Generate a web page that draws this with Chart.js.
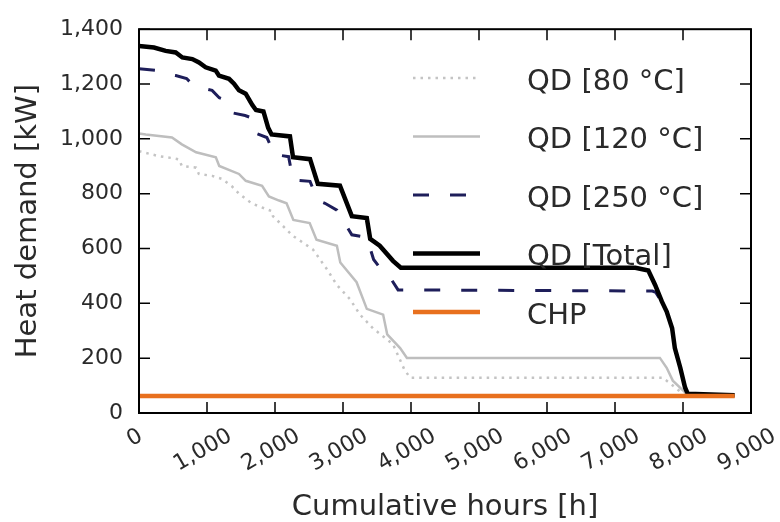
<!DOCTYPE html>
<html>
<head>
<meta charset="utf-8">
<script src="https://cdn.jsdelivr.net/npm/chart.js@4.4.0/dist/chart.umd.min.js"></script>
<style>
  html, body { margin: 0; padding: 0; background: #fff; }
  #wrap { width: 780px; height: 522px; }
</style>
</head>
<body>
<div id="wrap"><canvas id="heatChart" width="780" height="522"></canvas></div>
<script>
"use strict"

// load duration curves: cumulative hours [h] -> heat demand [kW]
const hours80 = [0, 290, 485, 590, 630, 840, 880, 1075, 1220, 1370, 1470, 1660, 1955, 1970, 2265, 2560, 2765, 2910, 3100, 3250, 3440, 3735, 3900, 3985, 7700, 7800, 7950, 8030];
const demand80 = [955, 937, 930, 925, 901, 895, 872, 865, 854, 826, 800, 764, 736, 718, 646, 596, 524, 467, 416, 359, 309, 251, 160, 129, 129, 110, 80, 72];

const hours120 = [0, 100, 485, 630, 840, 1130, 1180, 1470, 1570, 1810, 1910, 2060, 2170, 2270, 2510, 2610, 2910, 2960, 3200, 3350, 3590, 3650, 3840, 3940, 7660, 7760, 7850, 8030];
const demand120 = [1020, 1016, 1005, 980, 951, 933, 901, 872, 847, 829, 790, 775, 765, 704, 693, 632, 610, 549, 477, 380, 359, 287, 237, 201, 201, 165, 118, 75];

const hours250 = [0, 260, 330, 540, 700, 780, 880, 1075, 1180, 1280, 1370, 1560, 1650, 1690, 1880, 1926, 1970, 2200, 2265, 2515, 2630, 2735, 2910, 3130, 3350, 3450, 3540, 3690, 3810, 7550, 7600, 7700, 7760, 7840, 7880, 7960, 8030, 8070];
const demand250 = [1256, 1250, 1240, 1231, 1220, 1200, 1188, 1177, 1150, 1141, 1095, 1085, 1077, 1023, 1005, 980, 944, 935, 850, 845, 775, 765, 740, 650, 640, 560, 531, 495, 449, 445, 440, 400, 370, 309, 237, 165, 93, 70];

const hoursTotal = [0, 220, 392, 540, 637, 784, 882, 980, 1128, 1176, 1324, 1397, 1470, 1569, 1667, 1720, 1830, 1900, 1950, 2220, 2265, 2515, 2630, 2955, 3130, 3350, 3400, 3540, 3735, 3850, 7300, 7490, 7590, 7690, 7760, 7840, 7880, 7960, 8030, 8070, 8760];
const demandTotal = [1339, 1333, 1321, 1315, 1297, 1291, 1279, 1261, 1249, 1231, 1219, 1201, 1177, 1165, 1123, 1105, 1100, 1040, 1016, 1009, 933, 926, 836, 829, 718, 711, 635, 610, 555, 530, 530, 520, 467, 406, 370, 309, 237, 165, 93, 70, 65];

const hoursCHP = [0, 8760];
const demandCHP = [62, 62];

const seriesLabels = ["QD [80 °C]", "QD [120 °C]", "QD [250 °C]", "QD [Total]", "CHP"];
const xTickStep = 1000;
const yTickStep = 200;

function toPoints(xs, ys) {
    return xs.map((x, i) => ({ x: x, y: ys[i] }));
}

const FONT = "'DejaVu Sans', sans-serif";
const TEXT = "#2a2a2a";

// matplotlib-like frame, inward ticks on all four sides, rotated x labels and legend in the plot
const framePlugin = {
    id: "frame",
    afterDatasetsDraw(chart) {
        const ctx = chart.ctx;
        const a = chart.chartArea;
        const xs = chart.scales.x;
        const ys = chart.scales.y;
        const len = 11;
        ctx.save();
        ctx.strokeStyle = "#000";
        ctx.lineWidth = 1.5;
        ctx.beginPath();
        xs.ticks.forEach(t => {
            const px = xs.getPixelForValue(t.value);
            ctx.moveTo(px, a.bottom);
            ctx.lineTo(px, a.bottom - len);
            ctx.moveTo(px, a.top);
            ctx.lineTo(px, a.top + len);
        });
        ys.ticks.forEach(t => {
            const py = ys.getPixelForValue(t.value);
            ctx.moveTo(a.left, py);
            ctx.lineTo(a.left + len, py);
            ctx.moveTo(a.right, py);
            ctx.lineTo(a.right - len, py);
        });
        ctx.stroke();
        ctx.lineWidth = 2;
        ctx.strokeRect(a.left, a.top, a.right - a.left, a.bottom - a.top);

        // x tick labels, rotated 30 degrees and centred under the tick
        const ang = Math.PI / 6;
        const size = 22;
        ctx.fillStyle = TEXT;
        ctx.font = size + "px " + FONT;
        ctx.textAlign = "center";
        ctx.textBaseline = "middle";
        xs.ticks.forEach(t => {
            const text = t.value.toLocaleString("en-US");
            const w = ctx.measureText(text).width;
            const boxH = w * Math.sin(ang) + 0.8 * size * Math.cos(ang);
            const px = xs.getPixelForValue(t.value) - 4;
            const py = a.bottom + 14 + boxH / 2;
            ctx.save();
            ctx.translate(px, py);
            ctx.rotate(-ang);
            ctx.fillText(text, 0, 0);
            ctx.restore();
        });
        ctx.restore();
    },
    afterDraw(chart) {
        const ctx = chart.ctx;
        const lineX0 = 413, lineX1 = 480, textX = 527;
        const rowY0 = 78, rowGap = 58.5;
        ctx.save();
        chart.data.datasets.forEach((ds, i) => {
            const y = rowY0 + i * rowGap;
            ctx.strokeStyle = ds.borderColor;
            ctx.lineWidth = ds.borderWidth;
            ctx.setLineDash(ds.borderDash || []);
            ctx.beginPath();
            ctx.moveTo(lineX0, y);
            ctx.lineTo(lineX1, y);
            ctx.stroke();
            ctx.setLineDash([]);
            ctx.fillStyle = TEXT;
            ctx.font = "29px " + FONT;
            ctx.textBaseline = "middle";
            ctx.textAlign = "left";
            ctx.fillText(ds.label, textX, y + 4);
        });
        ctx.restore();
    }
};

const ctx = document.getElementById("heatChart").getContext("2d");
new Chart(ctx, {
    type: "line",
    data: {
        datasets: [
            {
                label: seriesLabels[0],
                data: toPoints(hours80, demand80),
                borderColor: "#c4c4c4",
                borderWidth: 2.5,
                borderDash: [2.5, 5],
                order: 4
            },
            {
                label: seriesLabels[1],
                data: toPoints(hours120, demand120),
                borderColor: "#bebebe",
                borderWidth: 2.5,
                order: 3
            },
            {
                label: seriesLabels[2],
                data: toPoints(hours250, demand250),
                borderColor: "#1e1e5a",
                borderWidth: 3,
                borderDash: [16, 21],
                order: 2
            },
            {
                label: seriesLabels[3],
                data: toPoints(hoursTotal, demandTotal),
                borderColor: "#000000",
                borderWidth: 4.5,
                order: 1
            },
            {
                label: seriesLabels[4],
                data: toPoints(hoursCHP, demandCHP),
                borderColor: "#e8701e",
                borderWidth: 4.5,
                order: 0
            }
        ]
    },
    options: {
        responsive: false,
        animation: false,
        devicePixelRatio: 1,
        layout: { padding: { left: 0, right: 29, top: 23, bottom: 0 } },
        elements: {
            point: { radius: 0 },
            line: { tension: 0, fill: false, borderCapStyle: "butt", borderJoinStyle: "miter" }
        },
        plugins: {
            legend: { display: false },
            tooltip: { enabled: false }
        },
        scales: {
            x: {
                type: "linear",
                min: 0,
                max: 9000,
                afterFit: s => { s.height = 109; },
                grid: { display: false, drawTicks: false },
                border: { display: false },
                ticks: {
                    stepSize: xTickStep,
                    display: false
                },
                title: {
                    display: true,
                    text: "Cumulative hours [h]",
                    color: TEXT,
                    font: { family: FONT, size: 29 },
                    padding: { top: 0, bottom: -3 }
                }
            },
            y: {
                min: 0,
                max: 1400,
                afterFit: s => { s.width = 139; },
                grid: { display: false, drawTicks: false },
                border: { display: false },
                ticks: {
                    stepSize: yTickStep,
                    padding: 16,
                    color: TEXT,
                    font: { family: FONT, size: 22 }
                },
                title: {
                    display: true,
                    text: "Heat demand [kW]",
                    color: TEXT,
                    font: { family: FONT, size: 29 },
                    padding: { top: 11, bottom: 0 }
                }
            }
        }
    },
    plugins: [framePlugin]
});
</script>
</body>
</html>
